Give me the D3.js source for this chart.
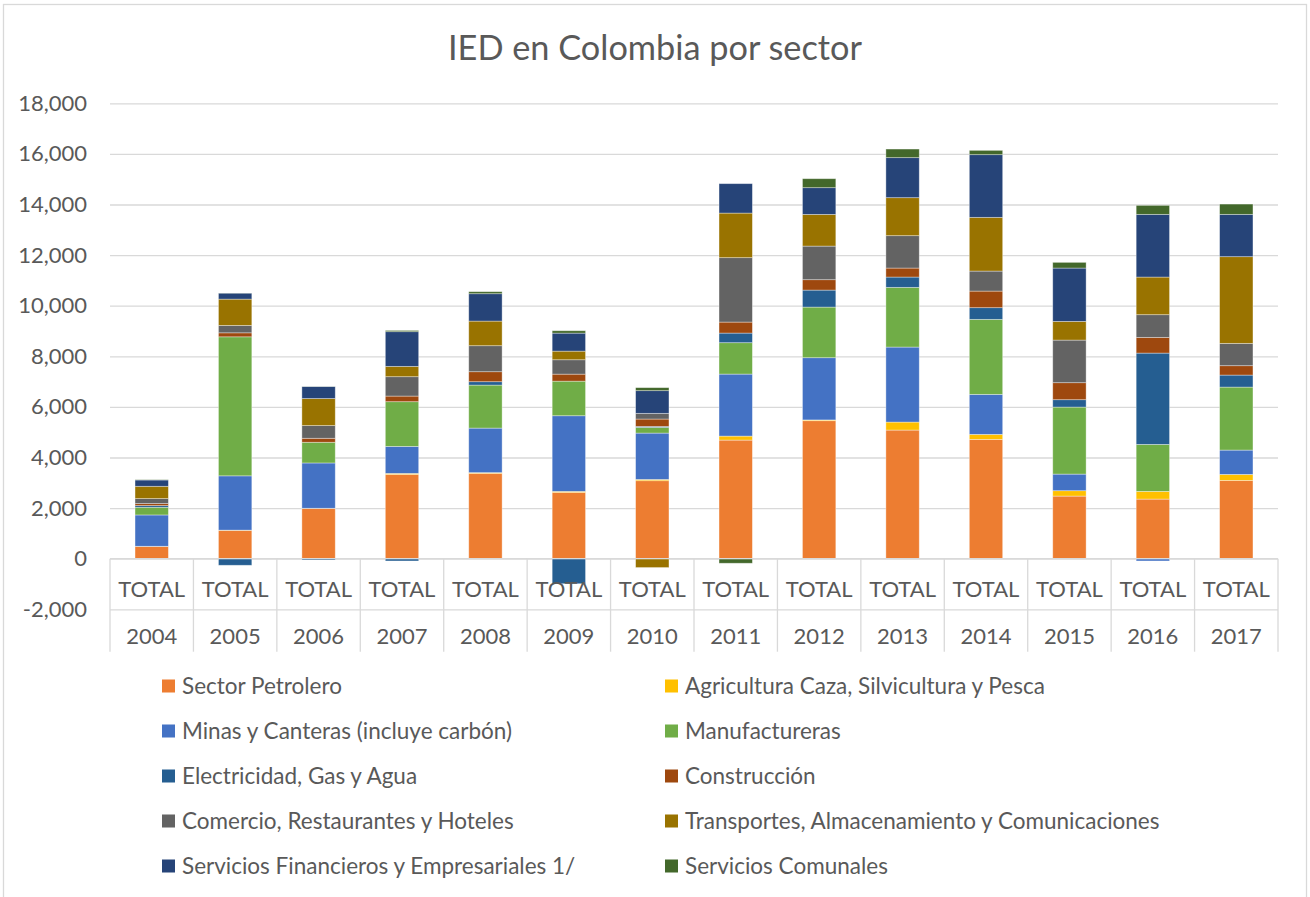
<!DOCTYPE html>
<html>
<head>
<meta charset="utf-8">
<script src="https://cdn.jsdelivr.net/npm/d3@7"></script>
<style>
  body { margin: 0; background: #fff; }
  svg text { font-family: Lato, "Open Sans", sans-serif; fill: #595959; }
</style>
</head>
<body>
<svg id="drawing_region"></svg>
<script>
// IED en Colombia por sector (millones US$)
const years = ["2004","2005","2006","2007","2008","2009","2010","2011","2012","2013","2014","2015","2016","2017"];
const rowLabel = "TOTAL";
const yTicks = [-2000,0,2000,4000,6000,8000,10000,12000,14000,16000,18000];

const sectors = [
    "Sector Petrolero",
    "Agricultura Caza, Silvicultura y Pesca",
    "Minas y Canteras (incluye carbón)",
    "Manufactureras",
    "Electricidad, Gas y Agua",
    "Construcción",
    "Comercio, Restaurantes y Hoteles",
    "Transportes, Almacenamiento y Comunicaciones",
    "Servicios Financieros y Empresariales 1/",
    "Servicios Comunales"
];
const colors = ["#ED7D31","#FFC000","#4472C4","#70AD47","#255E91","#9E480E","#636363","#997300","#264478","#43682B"];

const petrolero    = [486, 1119, 1988, 3332, 3372, 2621, 3083, 4688, 5455, 5084, 4716, 2475, 2356, 3095];
const agricultura  = [5, 10, 5, 40, 30, 40, 50, 158, 30, 316, 198, 213, 304, 237];
const minas        = [1238, 2146, 1791, 1067, 1760, 2990, 1832, 2451, 2460, 2965, 1581, 656, -90, 961];
const manufactura  = [304, 5495, 818, 1767, 1700, 1367, 225, 1241, 2000, 2360, 2965, 2649, 1858, 2490];
const electricidad = [66, -260, -50, -90, 134, -990, 40, 380, 672, 407, 462, 292, 3609, 475];
const construccion = [79, 158, 158, 222, 395, 277, 290, 435, 411, 356, 656, 672, 621, 371];
const comercio     = [198, 292, 502, 766, 1028, 569, 225, 2546, 1328, 1280, 791, 1684, 897, 882];
const transportes  = [486, 1040, 1068, 408, 973, 340, -350, 1762, 1253, 1502, 2123, 739, 1487, 3427];
const financieros  = [249, 237, 474, 1371, 1082, 712, 897, 1163, 1056, 1582, 2478, 2108, 2478, 1672];
const comunales    = [10, 5, 5, 50, 80, 95, 119, -180, 355, 340, 170, 225, 356, 407];

const series = [petrolero, agricultura, minas, manufactura, electricidad,
                construccion, comercio, transportes, financieros, comunales];

// table for d3.stack
const table = years.map( (y,i) => {
    const row = { year: y };
    sectors.forEach( (s,j) => { row[s] = series[j][i]; });
    return row;
});

const config = {
    width: 1310,
    height: 897,
    plot: { left: 110, right: 1278, top: 103.3, bottom: 609.3 }
};

const svg = d3.select('#drawing_region')
    .attr('width', config.width)
    .attr('height', config.height);

// chart frame
svg.append('rect')
    .attr('x', 3.5).attr('y', 4.5)
    .attr('width', 1303).attr('height', 900)
    .attr('fill', '#fff')
    .attr('stroke', '#D9D9D9')
    .attr('stroke-width', 1.3);

svg.append('text')
    .attr('x', 655)
    .attr('y', 60)
    .attr('text-anchor', 'middle')
    .attr('font-size', '34.3px')
    .text('IED en Colombia por sector');

const p = config.plot;

const xscale = d3.scaleBand()
    .domain(years)
    .range([p.left, p.right])
    .paddingInner(0.6)
    .paddingOuter(0.3);

const yscale = d3.scaleLinear()
    .domain([-2000, 18000])
    .range([p.bottom, p.top]);

const fmt = d3.formatLocale({decimal: ".", thousands: ",", grouping: [3], currency: ["$",""], minus: "-"}).format(",");

// gridlines + y labels
const yaxis = d3.axisLeft(yscale)
    .tickValues(yTicks)
    .tickSize(-(p.right - p.left))
    .tickPadding(23)
    .tickFormat(fmt);

const yaxis_group = svg.append('g')
    .attr('transform', `translate(${p.left},0)`)
    .call(yaxis);
yaxis_group.select('.domain').remove();
yaxis_group.selectAll('line')
    .attr('stroke', '#D9D9D9')
    .attr('stroke-width', 1.3);
yaxis_group.selectAll('text')
    .attr('font-size', '22px')
    .attr('font-family', 'Lato, sans-serif')
    .attr('fill', '#595959');

// stacked bars
const stack = d3.stack()
    .keys(sectors)
    .order(d3.stackOrderNone)
    .offset(d3.stackOffsetDiverging);
const stacked = stack(table);

svg.append('g')
    .selectAll('g')
    .data(stacked)
    .join('g')
    .attr('fill', (d,i) => colors[i])
    .selectAll('rect')
    .data(d => d)
    .join('rect')
    .attr('x', d => xscale(d.data.year))
    .attr('width', xscale.bandwidth())
    .attr('y', d => yscale(Math.max(d[0], d[1])))
    .attr('height', d => Math.abs(yscale(d[0]) - yscale(d[1])))
    .attr('stroke', '#fff')
    .attr('stroke-opacity', 0.45)
    .attr('stroke-width', 0.8);

// multi-level category axis
const cat = svg.append('g');
const step = xscale.step();
const zeroY = yscale(0);
cat.append('line')
    .attr('x1', p.left).attr('x2', p.right)
    .attr('y1', zeroY).attr('y2', zeroY)
    .attr('stroke', '#D9D9D9').attr('stroke-width', 1.3);
d3.range(years.length + 1).forEach( i => {
    const x = p.left + i * step;
    cat.append('line')
        .attr('x1', x).attr('x2', x)
        .attr('y1', zeroY).attr('y2', 651.7)
        .attr('stroke', '#D9D9D9').attr('stroke-width', 1.3);
});
cat.selectAll('.total')
    .data(years)
    .join('text')
    .attr('class', 'total')
    .attr('x', d => xscale(d) + xscale.bandwidth() / 2)
    .attr('y', 597)
    .attr('text-anchor', 'middle')
    .attr('font-size', '22px')
    .text(rowLabel);
cat.selectAll('.year')
    .data(years)
    .join('text')
    .attr('class', 'year')
    .attr('x', d => xscale(d) + xscale.bandwidth() / 2)
    .attr('y', 644)
    .attr('text-anchor', 'middle')
    .attr('font-size', '22px')
    .text(d => d);

// legend, two columns
const legend = svg.append('g')
    .selectAll('g')
    .data(sectors)
    .join('g')
    .attr('transform', (d,i) => `translate(${i % 2 === 0 ? 162 : 665}, ${686 + Math.floor(i / 2) * 45})`);
legend.append('rect')
    .attr('x', 0).attr('y', -6.5)
    .attr('width', 13).attr('height', 13)
    .attr('fill', (d,i) => colors[i]);
legend.append('text')
    .attr('x', 20)
    .attr('y', 7.5)
    .attr('font-size', '22.5px')
    .text(d => d);
</script>
</body>
</html>
